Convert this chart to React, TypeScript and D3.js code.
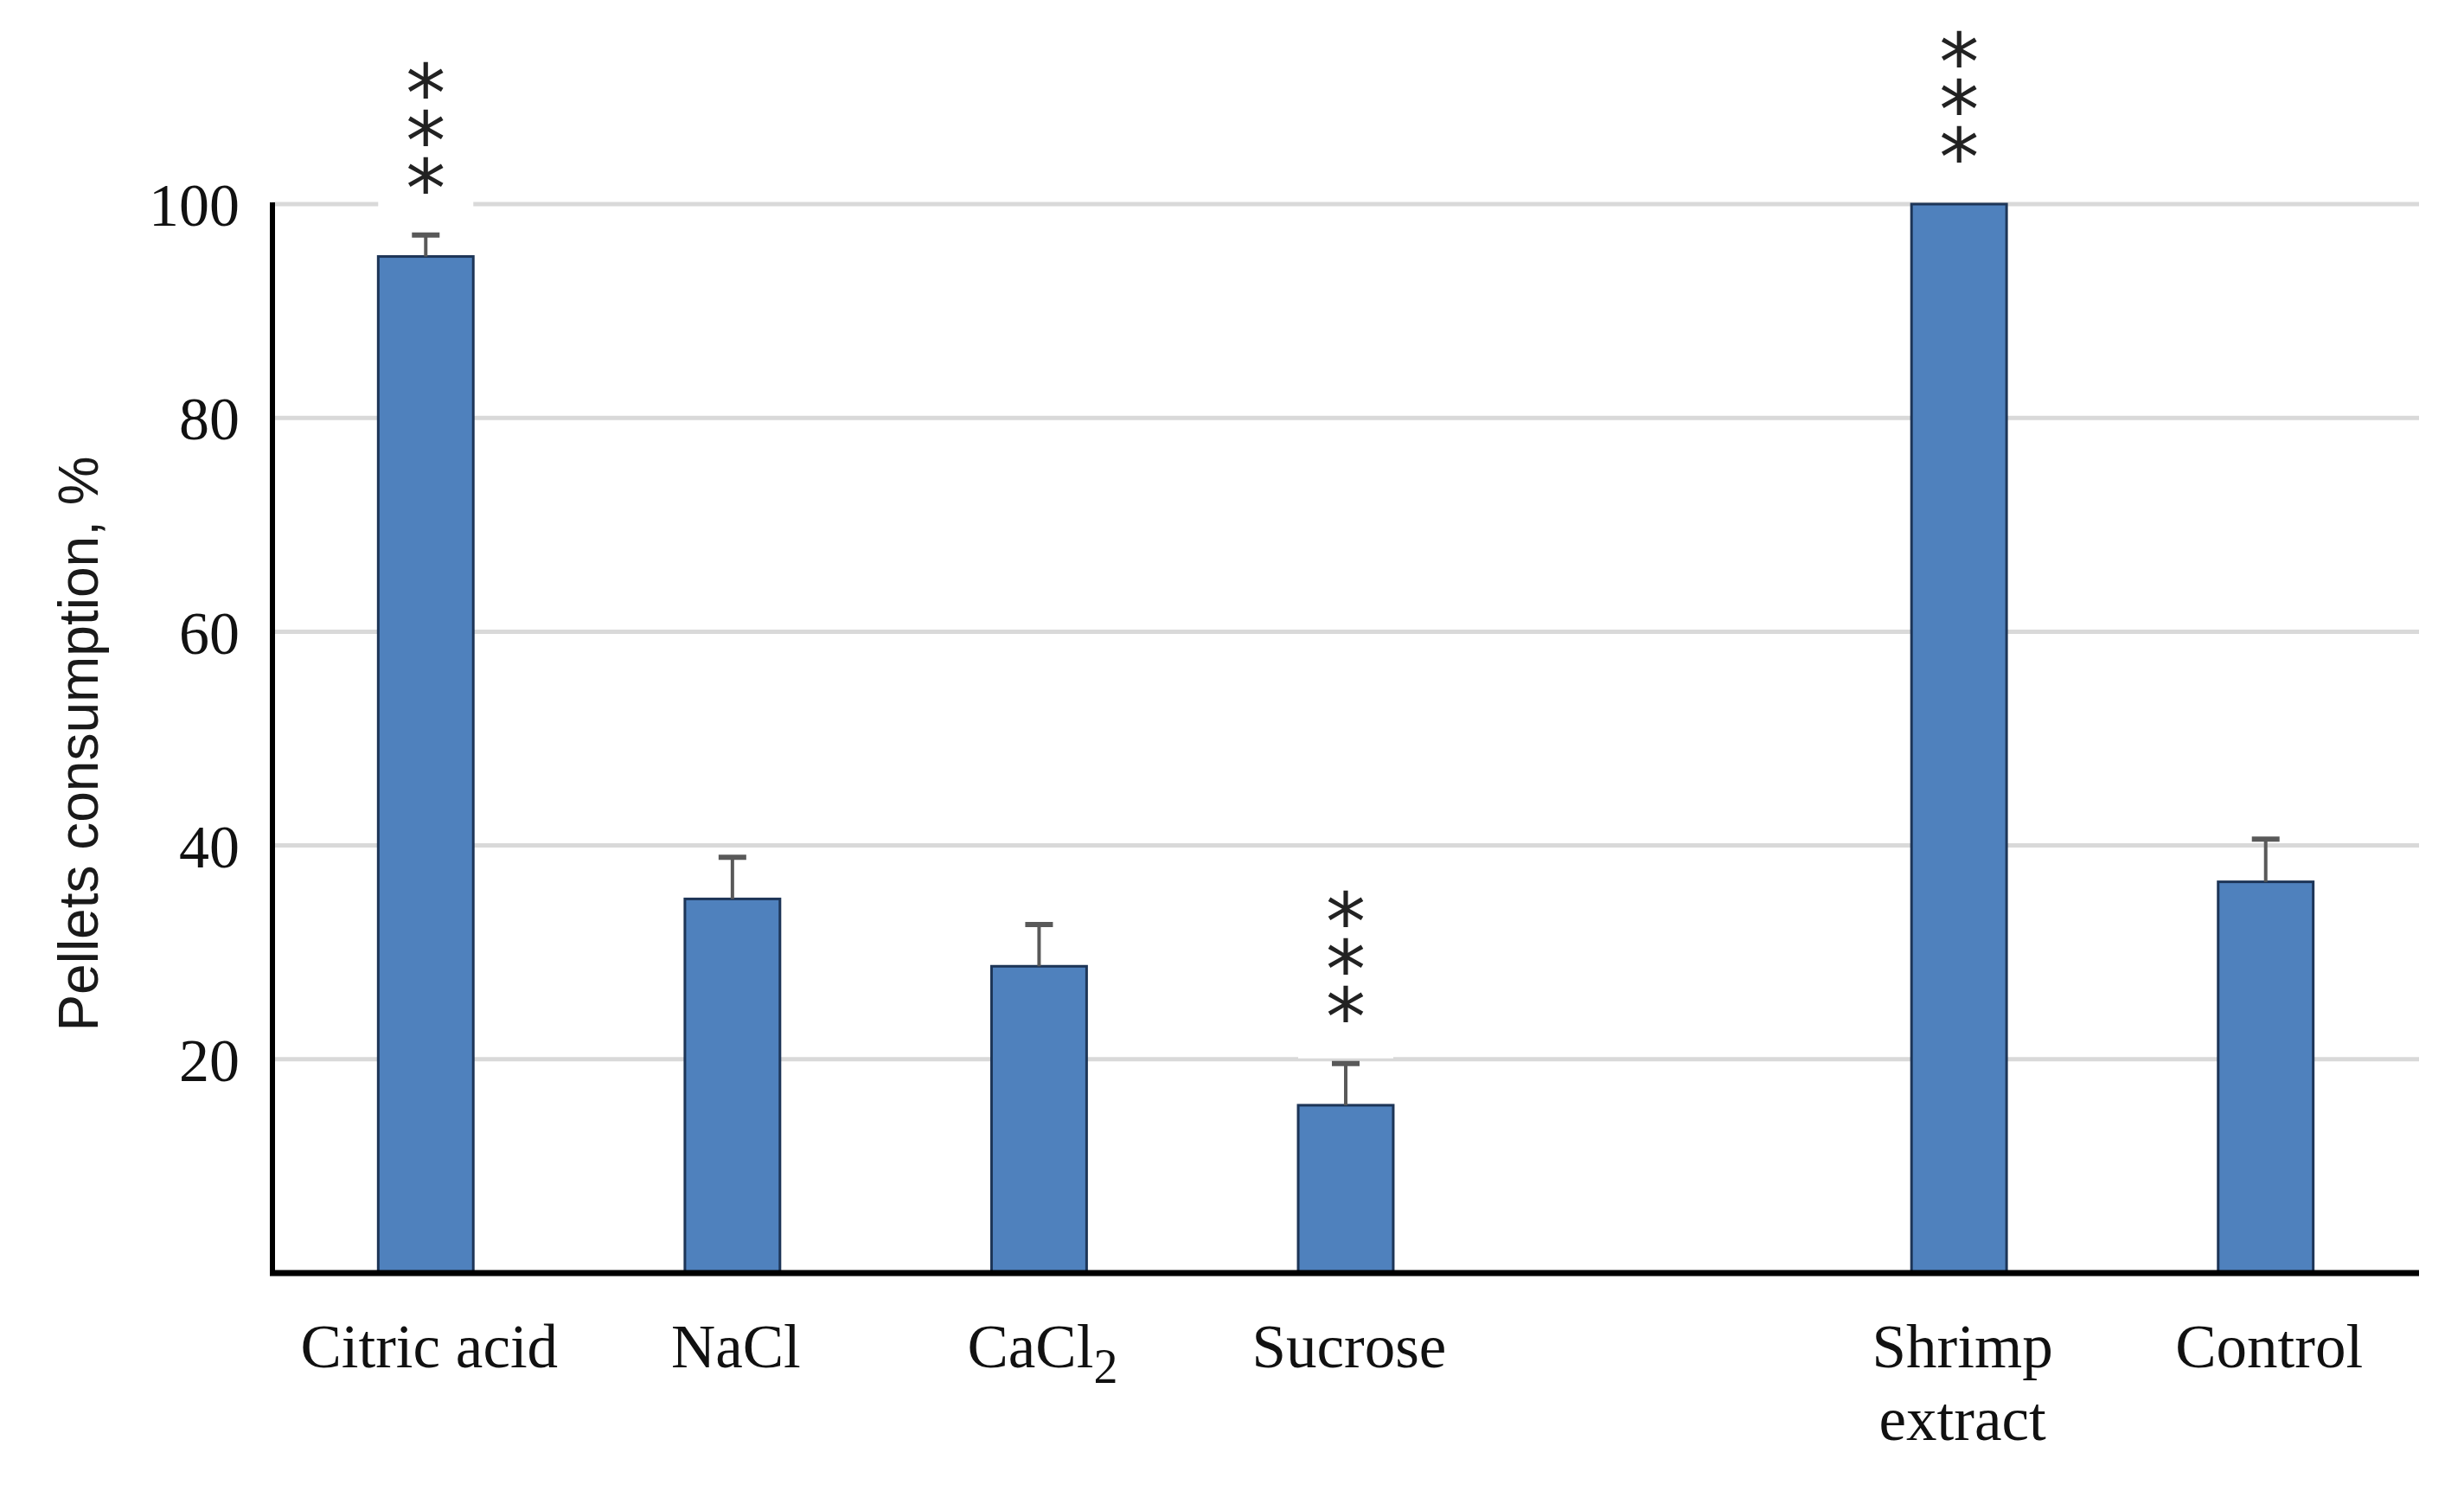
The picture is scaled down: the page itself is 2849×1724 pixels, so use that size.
import { useEffect } from "react";
import * as d3 from "d3";

// categories (one empty slot between Sucrose and Shrimp extract)
const CATEGORIES = ["Citric acid", "NaCl", "CaCl2", "Sucrose", "gap", "Shrimp extract", "Control"];
const LABEL_LINES: string[][] = [["Citric acid"], ["NaCl"], ["CaCl|2"], ["Sucrose"], [], ["Shrimp", "extract"], ["Control"]];
const VALUES: (number | null)[] = [95.1, 35.0, 28.7, 15.7, null, 100, 36.6];
const ERRORS: (number | null)[] = [2.0, 3.9, 3.9, 3.9, null, 0, 4.0];
const SIGNIFICANT = [true, false, false, true, false, true, false];
const Y_TICKS = [20, 40, 60, 80, 100];

const W = 2849;
const H = 1724;
const X0 = 315;
const X1 = 2797;
const Y_BASE = 1472;
const Y_TOP = 236;

export default function App() {
  useEffect(() => {
    document.body.style.margin = "0";
  }, []);

  const x = d3.scaleBand<string>().domain(CATEGORIES).range([X0, X1]).padding(0);
  const y = d3.scaleLinear().domain([0, 100]).range([Y_BASE, Y_TOP]);
  const barW = x.bandwidth() * 0.31;
  const serif = "'Liberation Serif', 'Times New Roman', serif";

  return (
    <svg width={W} height={H} style={{ display: "block", background: "#fff" }}>
      {/* gridlines */}
      {Y_TICKS.map((t) => (
        <line key={t} x1={X0} x2={X1} y1={y(t)} y2={y(t)} stroke="#d9d9d9" strokeWidth={5} />
      ))}

      {/* tick labels */}
      {Y_TICKS.map((t) => (
        <text key={t} x={X0 - 38} y={y(t)} dy="0.36em" textAnchor="end" fontFamily={serif} fontSize={70} fill="#111">
          {t}
        </text>
      ))}

      {/* y title */}
      <text
        transform={`translate(91,${(Y_TOP + Y_BASE) / 2 + 6}) rotate(-90)`}
        dy="0.35em"
        textAnchor="middle"
        fontFamily="'Liberation Sans', Arial, sans-serif"
        fontSize={64}
        fill="#1a1a1a"
      >
        Pellets consumption, %
      </text>

      {/* bars */}
      {CATEGORIES.map((c, i) => {
        const v = VALUES[i];
        if (v == null) return null;
        const cx = (x(c) ?? 0) + x.bandwidth() / 2;
        return (
          <rect key={c} x={cx - barW / 2} y={y(v)} width={barW} height={Y_BASE - y(v)}
            fill="#4f81bd" stroke="#1d3557" strokeWidth={3} />
        );
      })}

      {/* error bars */}
      {CATEGORIES.map((c, i) => {
        const v = VALUES[i];
        const e = ERRORS[i];
        if (v == null || !e) return null;
        const cx = (x(c) ?? 0) + x.bandwidth() / 2;
        return (
          <g key={c} stroke="#595959" strokeWidth={4}>
            <line x1={cx} x2={cx} y1={y(v)} y2={y(v + e)} />
            <line x1={cx - 16} x2={cx + 16} y1={y(v + e)} y2={y(v + e)} strokeWidth={6} />
          </g>
        );
      })}

      {/* significance stars, stacked vertically in one text */}
      {CATEGORIES.map((c, i) => {
        const v = VALUES[i];
        if (v == null || !SIGNIFICANT[i]) return null;
        const cx = (x(c) ?? 0) + x.bandwidth() / 2;
        const top = y(v + (ERRORS[i] ?? 0));
        const bottomStar = top - 66;
        const firstStar = bottomStar - 2 * 52;
        return (
          <g key={c}>
            <rect x={cx - 55} y={firstStar - 30} width={110} height={top - 6 - (firstStar - 30)} fill="#fff" />
            <text
              x={cx}
              y={firstStar - 46}
              style={{ writingMode: "vertical-rl", textOrientation: "upright" } as any}
              letterSpacing={-52}
              fontFamily="'DejaVu Sans', sans-serif"
              fontSize={92}
              fill="#222"
            >
              ***
            </text>
          </g>
        );
      })}

      {/* axes */}
      <line x1={X0} x2={X0} y1={Y_TOP - 2} y2={Y_BASE + 3} stroke="#000" strokeWidth={6} />
      <line x1={X0 - 3} x2={X1} y1={Y_BASE} y2={Y_BASE} stroke="#000" strokeWidth={7} />

      {/* category labels */}
      {CATEGORIES.map((c, i) => {
        const cx = (x(c) ?? 0) + x.bandwidth() / 2 + 4;
        return LABEL_LINES[i].map((line, k) => {
          const [main, sub] = line.split("|");
          return (
            <text key={c + k} x={cx} y={1581 + k * 84} textAnchor="middle" fontFamily={serif} fontSize={71} fill="#111">
              {main}
              {sub && (
                <tspan fontSize={56} dy={18}>
                  {sub}
                </tspan>
              )}
            </text>
          );
        });
      })}
    </svg>
  );
}
